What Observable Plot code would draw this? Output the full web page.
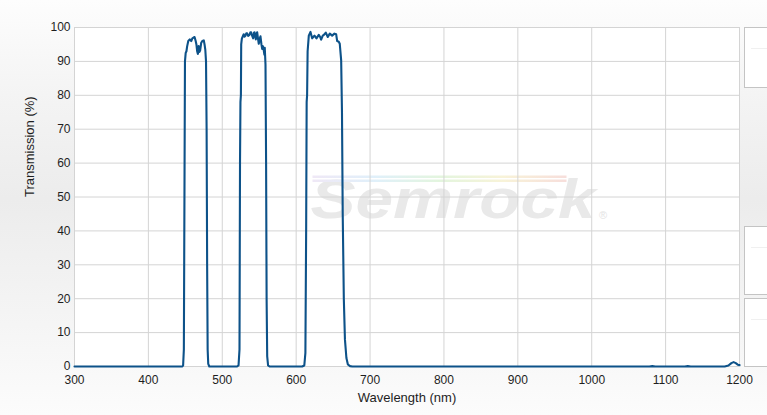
<!DOCTYPE html>
<html>
<head>
<meta charset="utf-8">
<script src="https://cdn.jsdelivr.net/npm/d3@7"></script>
<script src="https://cdn.jsdelivr.net/npm/@observablehq/plot@0.6"></script>
<style>
  html, body { margin: 0; padding: 0; }
  #wrap {
    position: relative; width: 767px; height: 415px; overflow: hidden;
    background: linear-gradient(to bottom, #fdfdfd 0%, #f3f3f3 25%, #ececec 48%, #f4f4f4 75%, #fcfcfc 100%);
    font-family: "Liberation Sans", Arial, sans-serif;
  }
  #wrap svg { position: absolute; left: 0; top: 0; }
  .box { position: absolute; left: 744px; width: 40px; background: #fff; border: 1px solid #c4c4c4; box-sizing: border-box; }
  .box::after { content: ""; position: absolute; left: 6px; right: 0; top: 20px; height: 1px; background: #f0f0f0; }
</style>
</head>
<body>
<div id="wrap">
  <div class="box" style="top:27px;height:61px"></div>
  <div class="box" style="top:226px;height:69px"></div>
  <div class="box" style="top:298px;height:69px"></div>
</div>
<script>
// Tick values
const xTicks = [300, 400, 500, 600, 700, 800, 900, 1000, 1100, 1200];
const yTicks = [0, 10, 20, 30, 40, 50, 60, 70, 80, 90, 100];

// Transmission spectrum
const wavelength = [
  300, 440, 446,
  447, 448, 448.8, 449.5, 450.5, 451.5, 452.5, 454, 456, 458, 459.5, 461, 462.5, 464, 465, 466, 467, 468, 469, 470, 471.5, 473, 475, 476, 477, 478, 478.8, 479.5, 480.2, 481, 482.5,
  520, 522, 523.3, 524, 524.6, 525.2, 525.6, 526.5, 528, 529, 530, 531.4, 532.5, 533.7, 535, 536.8, 538, 539.1, 540.5, 541.8, 543, 543.6, 545.4, 546.5, 547.2, 548.5, 549.4, 550.5, 551.7, 553, 554, 555, 556.2, 557, 557.5, 558.5, 559.3, 560, 560.8, 562, 564,
  608, 611, 612.5, 613.5, 614.2, 614.8, 615.5, 617.1, 619.4, 621.6, 623, 624.8, 627.5, 630.6, 632.5, 633.8, 636, 637.4, 640.1, 642.8, 645.5, 648.7, 651.8, 654.1, 655.5, 657.6, 659, 660.9, 662, 663, 664.5, 666, 668, 670, 673, 676,
  800, 1000, 1078, 1082, 1086, 1126, 1130, 1134, 1180, 1185, 1189, 1192, 1195, 1198, 1200
];
const transmission = [
  0, 0, 0,
  0.3, 5, 50, 90, 92.5, 93, 94.5, 96, 96.5, 96, 96.8, 97, 97.2, 96, 95, 93, 92.2, 94.5, 92.8, 93.2, 95.5, 96, 96.2, 95, 93.5, 90, 70, 30, 5, 0.8, 0,
  0, 0.3, 5, 60, 78, 80, 95, 96.7, 97.5, 98, 97.3, 97.6, 98.3, 98.3, 97.5, 97.8, 98.6, 98.6, 97.5, 96.8, 98.5, 98.6, 96.5, 98.2, 98.6, 96.5, 95.2, 96.5, 97.4, 95, 93.7, 94.5, 93.2, 92, 94, 89, 60, 20, 3, 0.3, 0,
  0, 0.3, 4, 40, 78, 80, 93, 97.6, 98.7, 96.8, 97.2, 97.6, 96.8, 97.8, 97.2, 96.4, 97.6, 97.8, 98.5, 97.2, 98.2, 97.6, 98.2, 98, 96, 95.8, 95.2, 90.3, 75, 45, 20, 8, 2.5, 0.6, 0.1, 0,
  0, 0, 0, 0.12, 0, 0, 0.1, 0, 0, 0.3, 1, 1.3, 1, 0.5, 0.4
];

const data = wavelength.map((w, i) => ({w, t: transmission[i]}));

const W = 767, H = 415;
const mL = 74, mR = 28, mT = 27, mB = 49;

const chart = Plot.plot({
  width: W, height: H,
  marginLeft: mL, marginRight: mR, marginTop: mT, marginBottom: mB,
  style: {background: "transparent", fontFamily: "'Liberation Sans', Arial, sans-serif", fontSize: "12px", color: "#1e1e1e", maxWidth: "none"},
  x: {domain: [300, 1200], label: null},
  y: {domain: [0, 100], label: null},
  marks: [
    Plot.frame({fill: "white", stroke: "none"}),
    Plot.text(["Semrock"], {frameAnchor: "middle", dx: 46, dy: 3, text: d => d, fontSize: 56, fontWeight: "bold", fontStyle: "italic", fill: "#e9e9e9", fontFamily: "'Liberation Sans', Arial, sans-serif"}),
    Plot.text(["®"], {frameAnchor: "middle", dx: 196, dy: 18, text: d => d, fontSize: 11, fill: "#e4e4e4"}),
    Plot.gridX(xTicks, {stroke: "#d4d4d4", strokeOpacity: 1, strokeWidth: 1}),
    Plot.gridY(yTicks, {stroke: "#d4d4d4", strokeOpacity: 1, strokeWidth: 1}),
    Plot.axisX(xTicks, {tickSize: 0, tickPadding: 9, tickFormat: d => String(d), label: null, fontSize: 12}),
    Plot.axisY(yTicks, {tickSize: 0, tickPadding: 4, tickFormat: d => String(d), label: null, fontSize: 12}),
    Plot.text(["Wavelength (nm)"], {frameAnchor: "bottom", dy: 35, text: d => d, fontSize: 13, fill: "#1e1e1e"}),
    Plot.text(["Transmission (%)"], {frameAnchor: "left", dx: -45, rotate: -90, text: d => d, fontSize: 13, fill: "#1e1e1e"}),
    Plot.line(data, {x: "w", y: "t", stroke: "#0d5289", strokeWidth: 2.1, strokeLinejoin: "round", curve: "linear"})
  ]
});

document.getElementById("wrap").appendChild(chart);

// Watermark tweaks: stretch the logo and add pale spectrum stripes above it
const svg = d3.select(chart);
const logo = svg.selectAll("text").filter(function () { return this.textContent === "Semrock"; });
logo.attr("textLength", 285).attr("lengthAdjust", "spacingAndGlyphs");
const logoNode = logo.node();
if (logoNode) {
  const defs = svg.append("defs");
  const grad = defs.append("linearGradient").attr("id", "spec").attr("x1", "0%").attr("x2", "100%");
  [["0%", "#efe8f6"], ["25%", "#e0f0fa"], ["50%", "#e3f5de"], ["75%", "#f8f3d8"], ["100%", "#f7dedb"]]
    .forEach(([o, c]) => grad.append("stop").attr("offset", o).attr("stop-color", c));
  // place stripes in a separate group right after the logo's group (no dx/dy transform)
  const stripes = svg.insert("g", function () { return logoNode.parentNode.nextSibling; });
  const x0 = mL + (W - mL - mR) / 2 + 46 - 140;
  const y0 = mT + (H - mT - mB) / 2 - 21;
  [0, 4].forEach(off => {
    stripes.append("rect")
      .attr("x", x0).attr("y", y0 + off).attr("width", 254).attr("height", 2.5)
      .attr("fill", "url(#spec)");
  });
}
</script>
</body>
</html>
